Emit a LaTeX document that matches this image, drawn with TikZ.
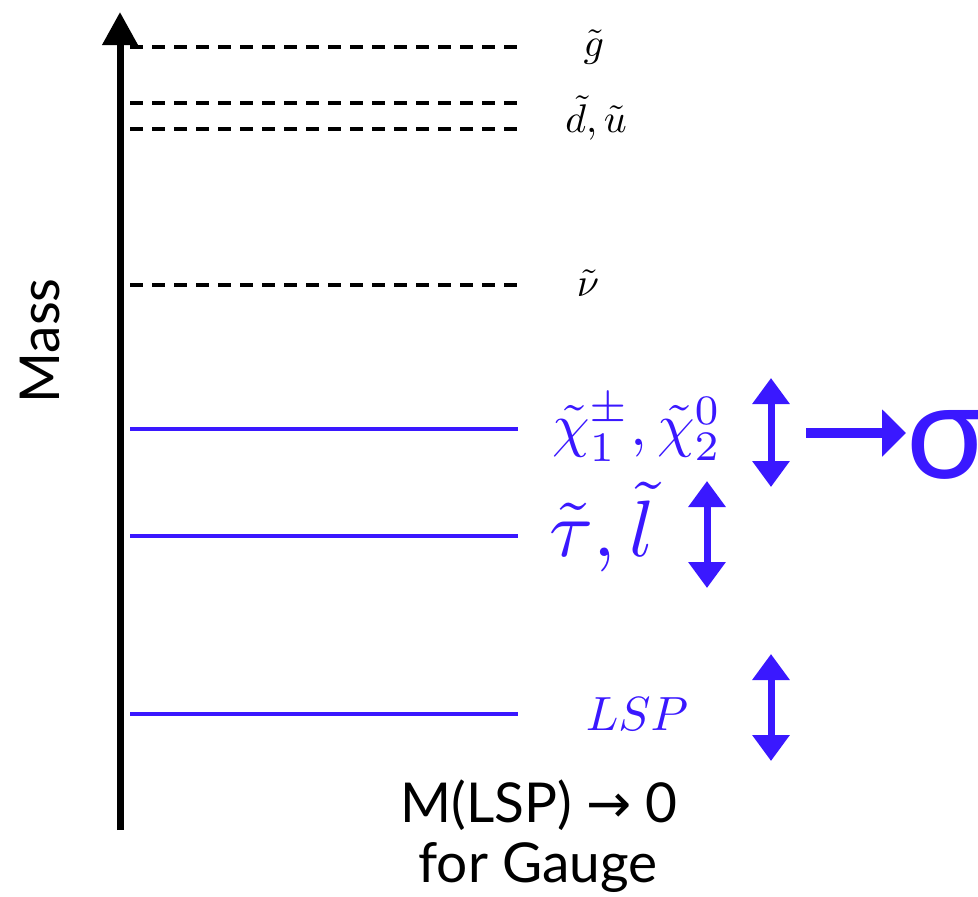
\documentclass[tikz,border=0pt]{standalone}
\usepackage{fontspec}
\usepackage{graphicx}
\setsansfont{Lato}
\newfontfamily\sigfont{Lato}
\newfontfamily\arrfont{DejaVu Sans}
\usetikzlibrary{arrows.meta}
\definecolor{lvl}{RGB}{58,24,255}
\begin{document}
\begin{tikzpicture}[x=1pt,y=-1pt,
  dashlvl/.style={line width=4pt,dash pattern=on 13pt off 9pt},
  bluelvl/.style={lvl,line width=4.5pt},
  dbl/.style={lvl,line width=7pt,{Triangle[length=26pt,width=36pt]}-{Triangle[length=26pt,width=36pt]}},
  darklab/.style={inner sep=0pt},
  txt/.style={inner sep=0pt,font=\sffamily\fontsize{55}{60}\selectfont}]
\useasboundingbox (0,0) rectangle (978,897);
% axis
\coordinate (ab) at (120,830);
\coordinate (at) at (120,12);
\draw[line width=7pt,-{Triangle[length=33pt,width=34pt]}] (ab) -- (at);
% levels
\foreach \n/\y in {g/47,d/103,u/129,nu/285}{
  \coordinate (\n L) at (130,\y); \coordinate (\n R) at (518,\y);
  \draw[dashlvl] (\n L) -- (\n R);}
\foreach \n/\y in {chi/429,tau/536,lsp/714}{
  \coordinate (\n L) at (130,\y); \coordinate (\n R) at (518,\y);
  \draw[bluelvl] (\n L) -- (\n R);}
% labels
\node[darklab] (lg) at (594,47) {\scalebox{4}{$\tilde g$}};
\node[darklab] (ldu) at (596,118) {\scalebox{4}{$\tilde d,\tilde u$}};
\node[darklab] (lnu) at (588,283) {\scalebox{4}{$\tilde\nu$}};
\node[inner sep=0pt,text=lvl] (lchi) at (637,428) {\scalebox{6}{$\tilde\chi^\pm_1,\tilde\chi^0_2$}};
\node[inner sep=0pt,text=lvl] (ltau) at (602,527) {\scalebox{8}{$\tilde\tau,\tilde l$}};
\node[inner sep=0pt,text=lvl] (llsp) at (637,714) {\scalebox{4.8}{$LSP$}};
% double arrows
\coordinate (c1) at (771,378); \coordinate (c2) at (771,487);
\draw[dbl] (c1) -- (c2);
\coordinate (t1) at (707,481); \coordinate (t2) at (707,588);
\draw[dbl] (t1) -- (t2);
\coordinate (s1) at (771,654); \coordinate (s2) at (771,761);
\draw[dbl] (s1) -- (s2);
% sigma
\node[inner sep=0pt,anchor=west,text=lvl,font=\sigfont\fontsize{135}{140}\selectfont] (sig) at (906,445) {σ};
\coordinate (h1) at (806,433);
\draw[lvl,line width=10pt,-{Triangle[length=24pt,width=46pt]}] (h1) -- (h1 -| sig.west);
% texts
\node[txt,rotate=90] (mass) at (40,341) {Mass};
\node[txt] (m1) at (539,805) {M(LSP) {\arrfont\fontsize{54}{60}\selectfont →} 0};
\node[txt] (m2) at (538,868) {for Gauge};
\end{tikzpicture}
\end{document}
